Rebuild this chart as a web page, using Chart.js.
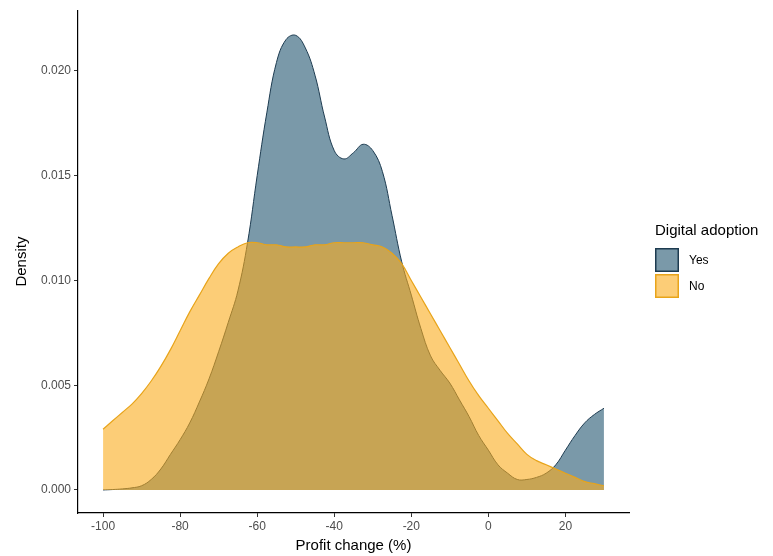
<!DOCTYPE html>
<html>
<head>
<meta charset="utf-8">
<script src="https://cdn.jsdelivr.net/npm/chart.js@4/dist/chart.umd.min.js"></script>
<style>
  html, body { margin: 0; padding: 0; background: #fff; }
  #wrap { width: 773px; height: 556px; }
</style>
</head>
<body>
<div id="wrap"><canvas id="densityChart" width="773" height="556"></canvas></div>
<script>
// profit change grid (%), every 2.5 points
const profitChange = [
  -100, -97.5, -95, -92.5, -90, -87.5, -85, -82.5, -80, -77.5,
  -75, -72.5, -70, -67.5, -65, -62.5, -60, -57.5, -55, -52.5,
  -50, -47.5, -45, -42.5, -40, -37.5, -35, -32.5, -30, -27.5,
  -25, -22.5, -20, -17.5, -15, -12.5, -10, -7.5, -5, -2.5,
  0, 2.5, 5, 7.5, 10, 12.5, 15, 17.5, 20, 22.5,
  25, 27.5, 30
];

// density, digital adoption = Yes
const densityYes = [
  0.0000, 0.00002, 0.00005, 0.0001, 0.0002, 0.0005, 0.0010, 0.0017, 0.0024, 0.0032,
  0.0042, 0.0053, 0.0066, 0.0080, 0.0095, 0.0118, 0.0150, 0.0180, 0.0204, 0.0215,
  0.0217, 0.0211, 0.0198, 0.0178, 0.0162, 0.0158, 0.0161, 0.0165, 0.0162, 0.0152,
  0.0131, 0.0109, 0.0093, 0.0077, 0.0064, 0.0057, 0.0051, 0.0043, 0.0035, 0.0026,
  0.0019, 0.0012, 0.0008, 0.0005, 0.0005, 0.0006, 0.0008, 0.0012, 0.0019, 0.0026,
  0.0032, 0.0036, 0.0039
];

// density, digital adoption = No
const densityNo = [
  0.0029, 0.0033, 0.0037, 0.0041, 0.0046, 0.0052, 0.0059, 0.0067, 0.0076, 0.0085,
  0.0093, 0.0101, 0.0108, 0.0113, 0.0116, 0.0118, 0.0118, 0.0117, 0.0117, 0.0116,
  0.0116, 0.0116, 0.0117, 0.0117, 0.0118, 0.0118, 0.0118, 0.0118, 0.0117, 0.0116,
  0.0113, 0.0108, 0.0100, 0.0092, 0.0084, 0.0076, 0.0068, 0.0060, 0.0052, 0.0045,
  0.0039, 0.0033, 0.0027, 0.0022, 0.0017, 0.0014, 0.0012, 0.0010, 0.0008, 0.0006,
  0.0004, 0.0003, 0.0002
];

const xTicks = [-100, -80, -60, -40, -20, 0, 20];
const yTicks = [0, 0.005, 0.010, 0.015, 0.020];
const groups = ['Yes', 'No'];

const FONT = '"Liberation Sans", Arial, sans-serif';

// legend drawn by hand so it sits where the ggplot one does
const sideLegend = {
  id: 'sideLegend',
  afterDraw(chart) {
    const c = chart.ctx;
    c.save();
    c.fillStyle = '#000';
    c.font = '15px ' + FONT;
    c.textBaseline = 'middle';
    c.fillText('Digital adoption', 655, 231);
    chart.data.datasets.forEach((ds, i) => {
      const y = 248 + i * 26;
      c.fillStyle = '#fff';
      c.fillRect(655, y, 24, 24);
      c.fillStyle = ds.backgroundColor;
      c.fillRect(655, y, 24, 24);
      c.strokeStyle = ds.borderColor;
      c.lineWidth = 1.5;
      c.strokeRect(655.75, y + 0.75, 22.5, 22.5);
      c.fillStyle = '#000';
      c.font = '12px ' + FONT;
      c.fillText(ds.label, 689, y + 13);
    });
    c.restore();
  }
};

new Chart(document.getElementById('densityChart'), {
  type: 'line',
  data: {
    datasets: [
      {
        label: groups[0],
        data: profitChange.map((v, i) => ({ x: v, y: densityYes[i] })),
        backgroundColor: 'rgba(33, 85, 112, 0.6)',
        borderColor: '#1d3b50',
        borderWidth: 1,
        fill: 'origin',
        pointRadius: 0,
        tension: 0.4,
        order: 2
      },
      {
        label: groups[1],
        data: profitChange.map((v, i) => ({ x: v, y: densityNo[i] })),
        backgroundColor: 'rgba(250, 172, 28, 0.6)',
        borderColor: '#e8a41a',
        borderWidth: 1.2,
        fill: 'origin',
        pointRadius: 0,
        tension: 0.4,
        order: 1
      }
    ]
  },
  options: {
    responsive: false,
    animation: false,
    events: [],
    layout: { padding: { left: 0, top: 10, right: 144, bottom: 0 } },
    plugins: {
      legend: { display: false },
      tooltip: { enabled: false }
    },
    scales: {
      x: {
        type: 'linear',
        min: -106.5,
        max: 36.5,
        afterBuildTicks: (s) => { s.ticks = xTicks.map(v => ({ value: v })); },
        afterFit: (s) => { s.height = 43; },
        grid: { drawOnChartArea: false, drawTicks: true, tickLength: 4, tickColor: '#333', tickWidth: 1 },
        border: { display: true, color: '#000', width: 1.2 },
        ticks: { color: '#4d4d4d', font: { size: 12, family: FONT }, padding: 2, maxRotation: 0 },
        title: { display: true, text: 'Profit change (%)', color: '#000', font: { size: 15, family: FONT }, padding: { top: 0, bottom: 1 } }
      },
      y: {
        type: 'linear',
        min: -0.0011,
        max: 0.0229,
        afterBuildTicks: (s) => { s.ticks = yTicks.map(v => ({ value: v })); },
        afterFit: (s) => { s.width = 78; },
        grid: { drawOnChartArea: false, drawTicks: true, tickLength: 4, tickColor: '#333', tickWidth: 1 },
        border: { display: true, color: '#000', width: 1.2 },
        ticks: { color: '#4d4d4d', font: { size: 12, family: FONT }, padding: 3, callback: (v) => v.toFixed(3) },
        title: { display: true, text: 'Density', color: '#000', font: { size: 15, family: FONT }, padding: { top: 13, bottom: 0 } }
      }
    }
  },
  plugins: [sideLegend]
});
</script>
</body>
</html>
